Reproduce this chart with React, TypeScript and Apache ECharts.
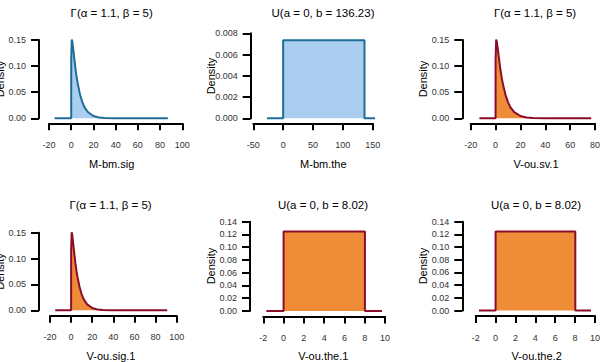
import React, { useEffect, useRef } from "react";
import * as echarts from "echarts";

// ---- data ----
const titles = ["Γ(α = 1.1, β = 5)", "U(a = 0, b = 136.23)", "Γ(α = 1.1, β = 5)", "Γ(α = 1.1, β = 5)", "U(a = 0, b = 8.02)", "U(a = 0, b = 8.02)"];
const xNames = ["M-bm.sig", "M-bm.the", "V-ou.sv.1", "V-ou.sig.1", "V-ou.the.1", "V-ou.the.2"];

// gamma density curve (shape 1.1, scale 5)
const gammaX = [0, 0.01, 0.5, 1, 2, 3, 4, 5, 6, 8, 10, 12, 15, 20, 25, 30, 40];
const gammaY = [0, 0.113, 0.151, 0.147, 0.129, 0.11, 0.092, 0.077, 0.065, 0.045, 0.031, 0.021, 0.012, 0.0044, 0.0017, 0.0006, 0.0001];

// drawn range of each density line [from, to]
const gammaRanges = [[-15, 87], [-13, 77], [-15, 91]];
// uniform priors: [a, b, from, to]
const uniformParams = [[0, 136.23, -27, 163], [0, 8.02, -1.7, 9.7], [0, 8.02, -1.67, 9.6]];

// axis scales: [min, max, interval]
const xScales = [[-20, 100, 20], [-50, 150, 50], [-20, 80, 20], [-20, 100, 20], [-2, 10, 2], [-2, 10, 2]];
const yScales = [[0, 0.15, 0.05], [0, 0.008, 0.002], [0, 0.15, 0.05], [0, 0.15, 0.05], [0, 0.14, 0.02], [0, 0.14, 0.02]];
const yDecimals = [2, 3, 2, 2, 2, 2];

// ---- layout ----
const grids = [
  { left: 49, top: 40, width: 133.3, height: 78.3 },
  { left: 253.3, top: 33.3, width: 119.4, height: 85 },
  { left: 470.7, top: 40, width: 126, height: 78.3 },
  { left: 50, top: 232.7, width: 126.7, height: 77.6 },
  { left: 263.3, top: 221.7, width: 121.7, height: 89.3 },
  { left: 475.7, top: 221.7, width: 121.6, height: 88.8 },
];
const yAxisLineX = [39, 250.7, 462.3, 39, 250, 462.3];
const titlePos = [[111.7, 12.7], [323, 12.7], [535, 12.7], [110.5, 205.3], [323, 205.3], [536, 205.3]];
const xNamePos = [[111.7, 164], [323.3, 164], [536, 164], [111, 356], [323.3, 356], [536.7, 356]];
const yNamePos = [[0, 79], [211, 76], [422.7, 79], [0, 271.5], [211, 266], [422.7, 266]];

const BLUE_LINE = "#1d6d96";
const BLUE_FILL = "#aacdf0";
const RED_LINE = "#8b0d2a";
const ORANGE_FILL = "#ee8c37";
const FONT = "'Liberation Sans', Arial, sans-serif";

const panelKind = ["gamma", "uniform", "gamma", "gamma", "uniform", "uniform"];
const panelColor = ["blue", "blue", "red", "red", "red", "red"];

function gammaData(range: number[]) {
  const pts: number[][] = [[range[0], 0]];
  for (let i = 0; i < gammaX.length; i++) pts.push([gammaX[i], gammaY[i]]);
  pts.push([range[1], 0]);
  return pts;
}

function uniformData(p: number[]) {
  const h = 1 / (p[1] - p[0]);
  return [[p[2], 0], [p[0], 0], [p[0], h], [p[1], h], [p[1], 0], [p[3], 0]];
}

export default function App() {
  const ref = useRef<HTMLDivElement>(null);
  useEffect(() => {
    if (!ref.current) return;
    const chart = echarts.init(ref.current, undefined, { renderer: "svg" });
    let gi = 0;
    let ui = 0;
    const series: any[] = [];
    const xAxis: any[] = [];
    const yAxis: any[] = [];
    const graphic: any[] = [];
    for (let i = 0; i < 6; i++) {
      const data = panelKind[i] === "gamma" ? gammaData(gammaRanges[gi++]) : uniformData(uniformParams[ui++]);
      const blue = panelColor[i] === "blue";
      series.push({
        type: "line",
        xAxisIndex: i,
        yAxisIndex: i,
        data,
        showSymbol: false,
        clip: false,
        lineStyle: { color: blue ? BLUE_LINE : RED_LINE, width: 2 },
        areaStyle: { color: blue ? BLUE_FILL : ORANGE_FILL, opacity: 1 },
        silent: true,
      });
      const xs = xScales[i];
      const ys = yScales[i];
      const xOff = i < 3 ? 5 : 5.5;
      xAxis.push({
        type: "value",
        gridIndex: i,
        min: xs[0],
        max: xs[1],
        interval: xs[2],
        offset: xOff,
        axisLine: { show: true, onZero: false, lineStyle: { color: "#000", width: 2 } },
        axisTick: { show: true, length: 7, lineStyle: { color: "#000", width: 2 } },
        splitLine: { show: false },
        axisLabel: { fontSize: 9, color: "#333", margin: 17, fontFamily: FONT, showMinLabel: true, showMaxLabel: true },
      });
      const dec = yDecimals[i];
      yAxis.push({
        type: "value",
        gridIndex: i,
        min: ys[0],
        max: ys[1],
        interval: ys[2],
        offset: grids[i].left - yAxisLineX[i],
        axisLine: { show: true, onZero: false, lineStyle: { color: "#000", width: 2 } },
        axisTick: { show: true, length: 8, lineStyle: { color: "#000", width: 2 } },
        splitLine: { show: false },
        axisLabel: { fontSize: 9, color: "#333", margin: 13, fontFamily: FONT, formatter: (v: number) => v.toFixed(dec) },
      });
      graphic.push({
        type: "text",
        x: titlePos[i][0],
        y: titlePos[i][1],
        style: { text: titles[i], fontSize: 11.5, fontFamily: FONT, fill: "#000", align: "center", verticalAlign: "middle" },
      });
      graphic.push({
        type: "text",
        x: xNamePos[i][0],
        y: xNamePos[i][1],
        style: { text: xNames[i], fontSize: 11, fontFamily: FONT, fill: "#000", align: "center", verticalAlign: "middle" },
      });
      graphic.push({
        type: "text",
        x: yNamePos[i][0],
        y: yNamePos[i][1],
        rotation: Math.PI / 2,
        style: { text: "Density", fontSize: 11, fontFamily: FONT, fill: "#000", align: "center", verticalAlign: "middle" },
      });
    }
    chart.setOption({
      animation: false,
      backgroundColor: "#fff",
      grid: grids.map((g) => ({ ...g, containLabel: false })),
      xAxis,
      yAxis,
      series,
      graphic,
    });
    return () => chart.dispose();
  }, []);
  return <div ref={ref} style={{ position: "fixed", left: 0, top: 0, width: 603, height: 362 }} />;
}
